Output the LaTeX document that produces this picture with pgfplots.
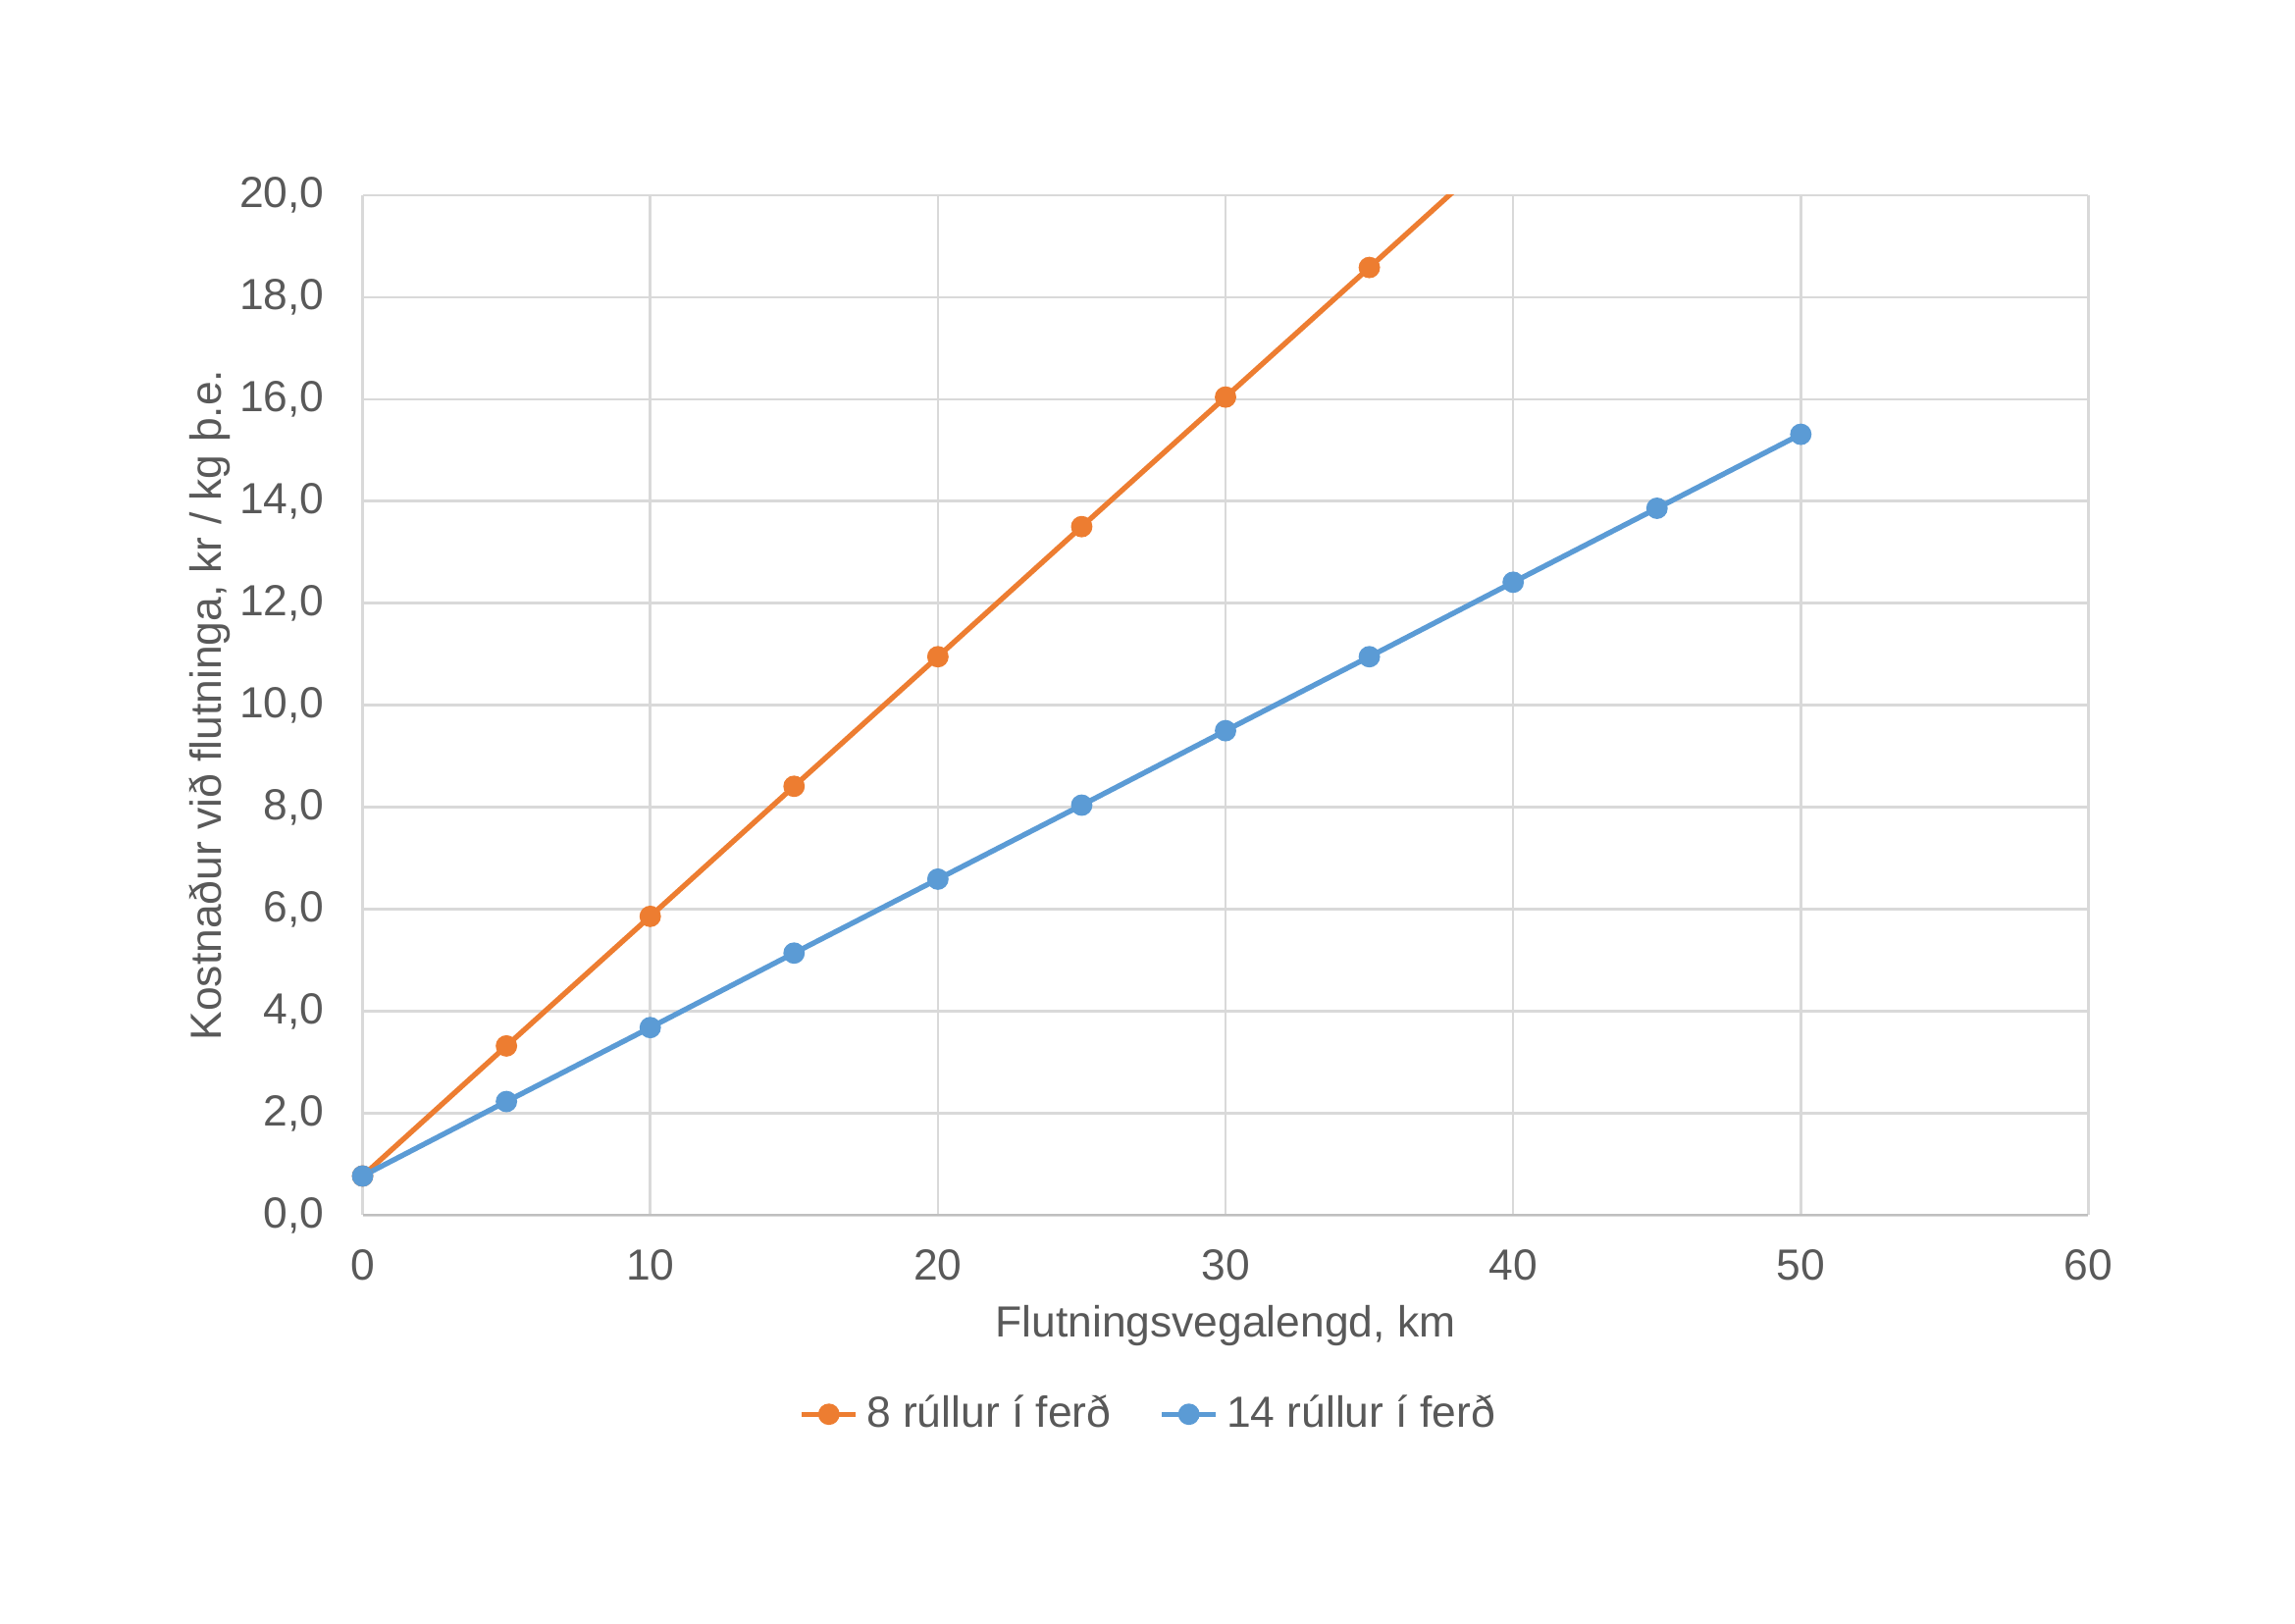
\documentclass[border=0pt]{standalone}
\usepackage{fontspec}
\setmainfont{Liberation Sans}
\usepackage{pgfplots}
\pgfplotsset{compat=1.18}
\usetikzlibrary{calc}

\definecolor{txtgray}{HTML}{595959}
\definecolor{gridgray}{HTML}{D9D9D9}
\definecolor{axgray}{HTML}{BFBFBF}
\definecolor{xlorange}{HTML}{ED7D31}
\definecolor{xlblue}{HTML}{5B9BD5}

\begin{document}
\fontsize{10.8pt}{12.5pt}\selectfont
\begin{tikzpicture}
\begin{axis}[
  name=ax,
  scale only axis,
  width=15.04cm,height=8.89cm,
  xmin=0,xmax=60,ymin=0,ymax=20,
  xtick={0,10,...,60},
  ytick={0,2,...,20},
  /pgf/number format/assume math mode=true,
  major tick length=0pt,
  grid=major,
  major grid style={gridgray,line width=0.6pt},
  axis line style={draw=none},
  tick label style={font=\fontsize{10.8pt}{12.5pt}\selectfont,text=txtgray},
  xticklabel style={yshift=-0.17cm},
  yticklabel style={xshift=-0.2cm,/pgf/number format/.cd,fixed,fixed zerofill,precision=1,use comma},
  xlabel={Flutningsvegalengd, km},
  ylabel={Kostnaður við flutninga, kr / kg þ.e.},
  label style={font=\fontsize{10.8pt}{12.5pt}\selectfont,text=txtgray},
  xlabel style={at={(axis description cs:0.5,0)},anchor=center,yshift=-0.96cm},
  ylabel style={at={(axis description cs:0,0.5)},anchor=center,yshift=1.33cm},
  legend columns=2,
  legend style={at={(0.457,-0.195)},anchor=center,draw=none,fill=none,
    font=\fontsize{10.8pt}{12.5pt}\selectfont,text=txtgray,
    /tikz/every even column/.append style={column sep=0.35cm}},
  legend image code/.code={
    \draw[mark repeat=2,mark phase=2] plot coordinates {(0cm,0cm) (0.235cm,0cm) (0.47cm,0cm)};
  },
  every axis plot/.append style={line width=1.3pt,mark=*,mark size=2pt},
]
\addplot[xlorange,mark options={fill=xlorange,draw=xlorange}] coordinates {
  (0,0.77) (5,3.32) (10,5.86) (15,8.41) (20,10.95) (25,13.50) (30,16.04) (35,18.58) (40,21.13)};
\addlegendentry{8 rúllur í ferð}
\addplot[xlblue,mark options={fill=xlblue,draw=xlblue}] coordinates {
  (0,0.77) (5,2.23) (10,3.68) (15,5.14) (20,6.59) (25,8.04) (30,9.50) (35,10.95) (40,12.41) (45,13.86) (50,15.31)};
\addlegendentry{14 rúllur í ferð}
\draw[axgray,line width=0.8pt] (rel axis cs:0,0) -- (rel axis cs:1,0);
\end{axis}
\path[use as bounding box] ($(ax.south west)+(-3.16cm,-3.56cm)$) rectangle ($(ax.north east)+(1.80cm,1.70cm)$);
\end{tikzpicture}
\end{document}
